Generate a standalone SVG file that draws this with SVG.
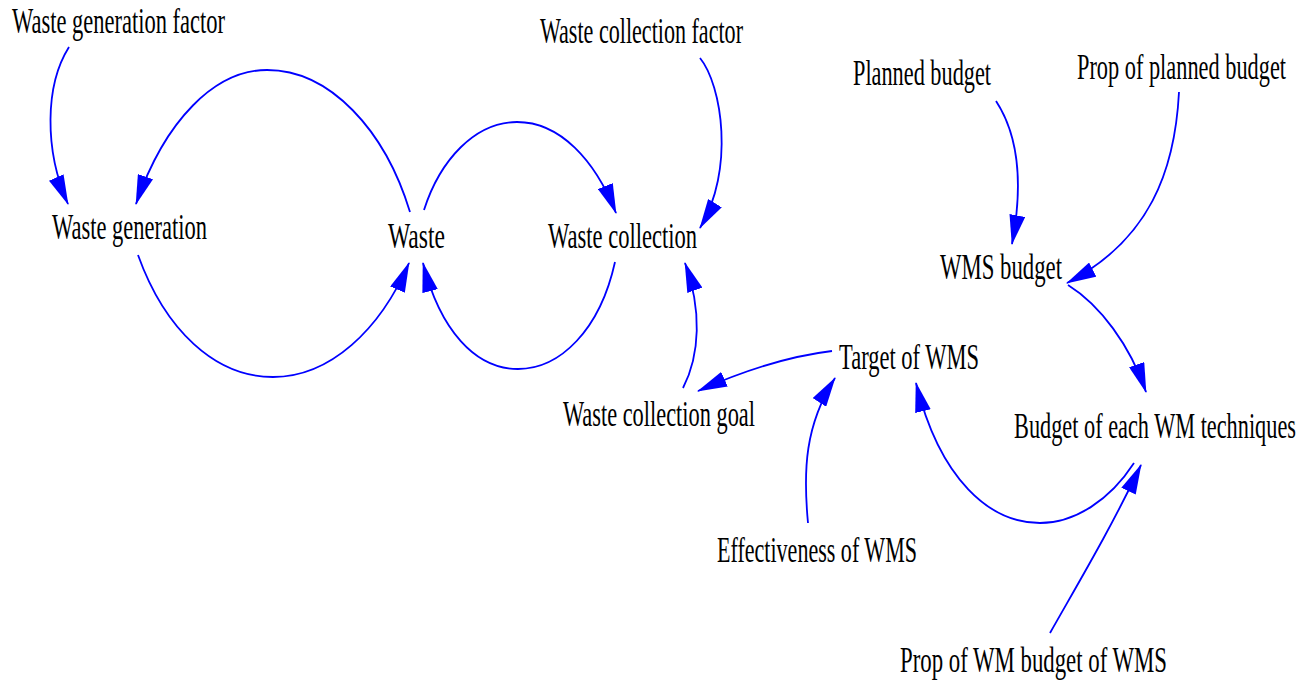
<svg xmlns="http://www.w3.org/2000/svg" width="1314" height="683" viewBox="0 0 1314 683">
<style>
text{font-family:'Liberation Serif','DejaVu Serif','Times New Roman',serif;font-size:35px;fill:#000}
.c path{fill:none;stroke:#0000ff;stroke-width:1.8}
</style>
<defs>
<marker id="ah" markerUnits="userSpaceOnUse" markerWidth="30" markerHeight="16" refX="29" refY="8" orient="auto" viewBox="0 0 30 16">
<path d="M0,0 L30,8 L0,16 z" fill="#0000ff"/>
</marker>
</defs>
<rect width="1314" height="683" fill="#fff"/>
<g class="c" id="connectors">
<path marker-end="url(#ah)" d="M69,47 C45,85 44,150 68,204"/>
<path marker-end="url(#ah)" d="M410,212 C385,130 330,70 267,70 C215,70 165,120 136,204"/>
<path marker-end="url(#ah)" d="M138,255 C165,330 215,377 273,377 C330,377 380,330 409,263"/>
<path marker-end="url(#ah)" d="M424,210 C440,160 475,122 517,122 C560,122 595,160 616,213"/>
<path marker-end="url(#ah)" d="M615,262 C600,330 560,369 518,369 C475,369 440,330 423,263"/>
<path marker-end="url(#ah)" d="M700,58 C722,85 735,170 700,228"/>
<path marker-end="url(#ah)" d="M683,388 C700,355 702,310 685,263"/>
<path marker-end="url(#ah)" d="M832,351 C790,356 745,370 698,391"/>
<path marker-end="url(#ah)" d="M808,523 C803,470 805,425 835,378"/>
<path marker-end="url(#ah)" d="M1134,463 C1110,500 1075,523 1040,523 C990,523 940,480 916,383"/>
<path marker-end="url(#ah)" d="M1050,633 C1080,580 1110,530 1141,465"/>
<path marker-end="url(#ah)" d="M1068,285 C1100,305 1130,345 1146,392"/>
<path marker-end="url(#ah)" d="M1179,92 C1175,170 1150,240 1067,283"/>
<path marker-end="url(#ah)" d="M996,101 C1015,130 1025,175 1012,244"/>
</g>
<g id="waste_generation_factor"><text x="12" y="33" textLength="213" lengthAdjust="spacingAndGlyphs">Waste generation factor</text></g>
<g id="waste_generation"><text x="52" y="239" textLength="155" lengthAdjust="spacingAndGlyphs">Waste generation</text></g>
<g id="waste"><text x="388" y="248" textLength="57" lengthAdjust="spacingAndGlyphs">Waste</text></g>
<g id="waste_collection"><text x="548" y="248" textLength="149" lengthAdjust="spacingAndGlyphs">Waste collection</text></g>
<g id="waste_collection_factor"><text x="540" y="43" textLength="203" lengthAdjust="spacingAndGlyphs">Waste collection factor</text></g>
<g id="planned_budget"><text x="853" y="85" textLength="138" lengthAdjust="spacingAndGlyphs">Planned budget</text></g>
<g id="prop_planned_budget"><text x="1077" y="79" textLength="209" lengthAdjust="spacingAndGlyphs">Prop of planned budget</text></g>
<g id="wms_budget"><text x="940" y="279" textLength="122" lengthAdjust="spacingAndGlyphs">WMS budget</text></g>
<g id="waste_collection_goal"><text x="563" y="426" textLength="192" lengthAdjust="spacingAndGlyphs">Waste collection goal</text></g>
<g id="target_wms"><text x="839" y="369" textLength="140" lengthAdjust="spacingAndGlyphs">Target of WMS</text></g>
<g id="budget_each"><text x="1014" y="438" textLength="282" lengthAdjust="spacingAndGlyphs">Budget of each WM techniques</text></g>
<g id="effectiveness_wms"><text x="717" y="562" textLength="200" lengthAdjust="spacingAndGlyphs">Effectiveness of WMS</text></g>
<g id="prop_wm_budget"><text x="900" y="672" textLength="267" lengthAdjust="spacingAndGlyphs">Prop of WM budget of WMS</text></g>
</svg>
